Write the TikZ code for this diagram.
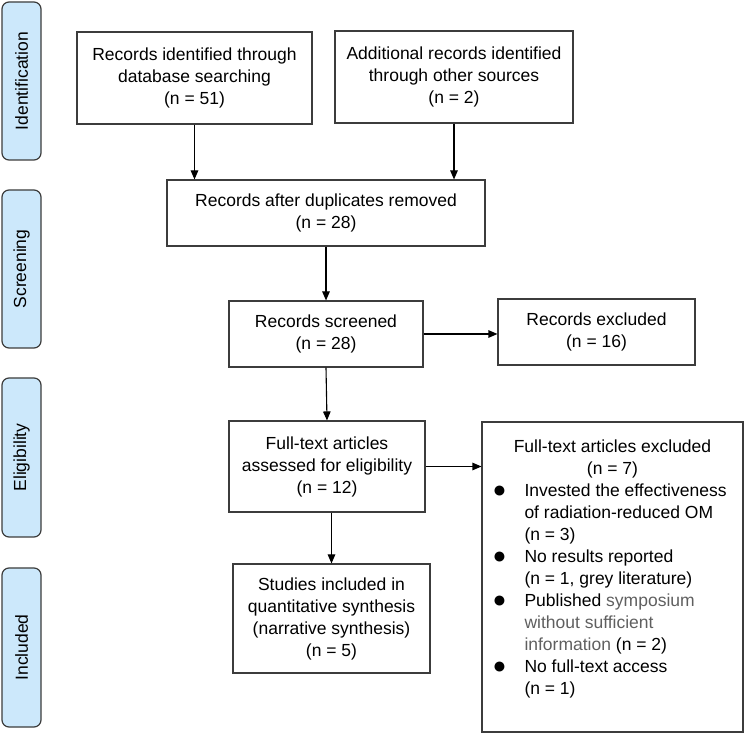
\documentclass[tikz,border=0pt]{standalone}
\usepackage{fontspec}
\setmainfont{Liberation Sans}
\usetikzlibrary{arrows.meta}
\definecolor{phasefill}{RGB}{204,232,251}
\definecolor{boxline}{RGB}{60,60,60}
\definecolor{greytext}{RGB}{95,95,95}
\newcommand{\blt}{\hspace{2pt}\raisebox{-1.5pt}{\fontsize{23}{22}\selectfont ●}}
\begin{document}
\begin{tikzpicture}[x=1pt,y=-1pt,
  font=\fontsize{17.5}{22}\selectfont,
  phase/.style={draw=boxline,line width=1.2pt,fill=phasefill,rounded corners=7pt,rotate=90,minimum height=39pt,inner sep=0pt},
  box/.style={draw=boxline,line width=1.1pt,align=center,inner sep=0pt},
  arr/.style={line width=1.1pt,-{Triangle[length=9pt,width=7.5pt]}}]
\useasboundingbox (0,0) rectangle (748,735);

\node[phase,minimum width=158pt] (ident) at (21.5,81) {Identification};
\node[phase,minimum width=158pt] (screen) at (21.5,269) {Screening};
\node[phase,minimum width=159pt] (elig) at (21.5,457.5) {Eligibility};
\node[phase,minimum width=159pt] (incl) at (21.5,647.5) {Included};

\node[box,minimum width=235pt,minimum height=92pt] (dbrec) at (194.5,78) {Records identified through\\database searching\\(n = 51)};
\node[box,minimum width=238pt,minimum height=92pt] (otherrec) at (454,77) {Additional records identified\\through other sources\\(n = 2)};
\node[box,minimum width=318pt,minimum height=66pt] (dedup) at (326,213) {Records after duplicates removed\\(n = 28)};
\node[box,minimum width=194pt,minimum height=66pt] (screened) at (326,334) {Records screened\\(n = 28)};
\node[box,minimum width=197pt,minimum height=66pt] (excl) at (596.5,332) {Records excluded\\(n = 16)};
\node[box,minimum width=196pt,minimum height=91pt] (fulltext) at (327,466.5) {Full-text articles\\assessed for eligibility\\(n = 12)};
\node[box,minimum width=197pt,minimum height=109pt] (included) at (331.5,618.5) {Studies included in\\quantitative synthesis\\(narrative synthesis)\\(n = 5)};
\node[box,minimum width=261pt,minimum height=310pt] (ftexcl) at (612.5,577) {%
\begin{tabular}{@{}p{34pt}@{}p{210pt}@{}}
\multicolumn{2}{c}{Full-text articles excluded}\\
\multicolumn{2}{c}{(n = 7)}\\
\blt & Invested the effectiveness\\
 & of radiation-reduced OM\\
 & (n = 3)\\
\blt & No results reported\\
 & (n = 1, grey literature)\\
\blt & Published \textcolor{greytext}{symposium}\\
 & \textcolor{greytext}{without sufficient}\\
 & \textcolor{greytext}{information} (n = 2)\\
\blt & No full-text access\\
 & (n = 1)\\[16pt]
\end{tabular}};

\draw[arr] (dbrec.south) -- (dbrec.south |- dedup.north);
\draw[arr] (otherrec.south) -- (otherrec.south |- dedup.north);
\draw[arr] (dedup.south) -- (screened.north);
\draw[arr] (screened.east) -- (screened.east -| excl.west);
\draw[arr] (screened.south) -- (fulltext.north);
\draw[arr] (fulltext.east) -- (fulltext.east -| ftexcl.west);
\draw[arr] (included.north |- fulltext.south) -- (included.north);
\end{tikzpicture}
\end{document}
